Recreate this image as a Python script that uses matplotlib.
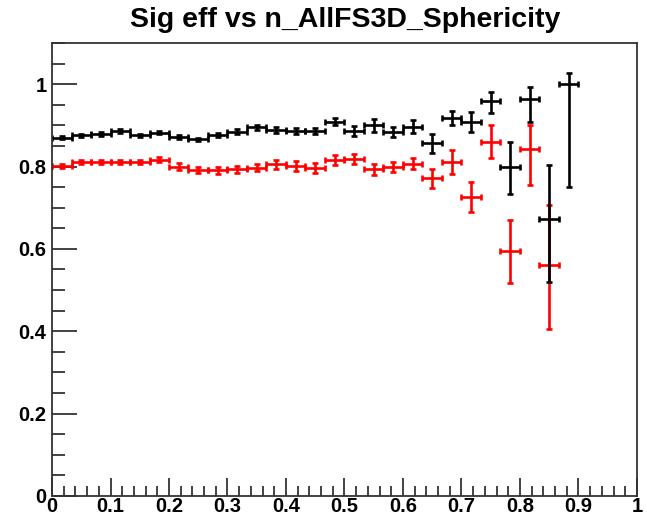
import numpy as np
import matplotlib
matplotlib.use("Agg")
import matplotlib.pyplot as plt
from matplotlib.ticker import MultipleLocator

plt.rcParams['font.family'] = ['Liberation Sans', 'DejaVu Sans']

title = "Sig eff vs n_AllFS3D_Sphericity"

# 30 bins on [0, 1]
bin_edges = np.linspace(0.0, 1.0, 31)
bin_centers = 0.5 * (bin_edges[:-1] + bin_edges[1:])
half_width = 0.5 * (bin_edges[1] - bin_edges[0])

# black series (bins 0..26)
black_eff = [0.870, 0.876, 0.879, 0.886, 0.876, 0.882, 0.872, 0.866, 0.876, 0.885,
             0.895, 0.889, 0.886, 0.886, 0.909, 0.887, 0.900, 0.884, 0.897, 0.856,
             0.919, 0.909, 0.958, 0.799, 0.964, 0.673, 1.000]
black_lo = [0.004, 0.004, 0.004, 0.004, 0.004, 0.004, 0.004, 0.004, 0.005, 0.005,
            0.007, 0.008, 0.008, 0.008, 0.008, 0.012, 0.015, 0.013, 0.015, 0.022,
            0.017, 0.024, 0.027, 0.066, 0.055, 0.154, 0.250]
black_hi = [0.004, 0.004, 0.004, 0.004, 0.004, 0.004, 0.004, 0.004, 0.005, 0.005,
            0.007, 0.008, 0.008, 0.008, 0.008, 0.012, 0.015, 0.013, 0.015, 0.022,
            0.017, 0.024, 0.022, 0.061, 0.030, 0.130, 0.028]

# red series (bins 0..25)
red_eff = [0.802, 0.810, 0.810, 0.811, 0.810, 0.817, 0.800, 0.792, 0.791, 0.793,
           0.797, 0.805, 0.802, 0.797, 0.816, 0.818, 0.793, 0.799, 0.807, 0.771,
           0.811, 0.726, 0.860, 0.594, 0.842, 0.561]
red_lo = [0.005, 0.005, 0.005, 0.005, 0.005, 0.005, 0.008, 0.008, 0.008, 0.008,
          0.009, 0.012, 0.012, 0.012, 0.012, 0.012, 0.013, 0.013, 0.014, 0.024,
          0.028, 0.036, 0.040, 0.078, 0.088, 0.156]
red_hi = [0.005, 0.005, 0.005, 0.005, 0.005, 0.005, 0.008, 0.008, 0.008, 0.008,
          0.009, 0.012, 0.012, 0.012, 0.012, 0.012, 0.013, 0.013, 0.014, 0.024,
          0.028, 0.036, 0.040, 0.076, 0.060, 0.146]

fig = plt.figure(figsize=(6.47, 5.21), dpi=100)
ax = fig.add_axes([0.0804, 0.048, 0.904, 0.8695])

def draw(eff, lo, hi, color):
    n = len(eff)
    ax.errorbar(bin_centers[:n], eff, yerr=[lo, hi], xerr=half_width,
                fmt='none', ecolor=color, elinewidth=1.9, capsize=2.4,
                capthick=1.9)

draw(red_eff, red_lo, red_hi, '#ff0000')
draw(black_eff, black_lo, black_hi, 'black')

ax.set_xlim(0, 1)
ax.set_ylim(0, 1.1)
ax.xaxis.set_major_locator(MultipleLocator(0.1))
ax.xaxis.set_minor_locator(MultipleLocator(0.02))
ax.yaxis.set_major_locator(MultipleLocator(0.2))
ax.yaxis.set_minor_locator(MultipleLocator(0.05))
ax.xaxis.set_major_formatter(plt.FuncFormatter(lambda v, p: f"{v:g}"))
ax.yaxis.set_major_formatter(plt.FuncFormatter(lambda v, p: f"{v:g}"))

ax.tick_params(which='both', direction='in', top=False, right=False,
               width=1.2, color='#222222')
ax.tick_params(axis='x', which='major', length=13, pad=0.5)
ax.tick_params(axis='x', which='minor', length=7)
ax.tick_params(axis='y', which='major', length=18, pad=4)
ax.tick_params(axis='y', which='minor', length=9)
for lab in ax.get_xticklabels() + ax.get_yticklabels():
    lab.set_fontweight('bold')
    lab.set_fontsize(14.5)
for s in ax.spines.values():
    s.set_linewidth(1.3)
    s.set_color('#333333')

fig.text(0.534, 0.962, title, ha='center', va='center', fontsize=20.5,
         fontweight='bold')

fig.savefig("out.png", dpi=100)
